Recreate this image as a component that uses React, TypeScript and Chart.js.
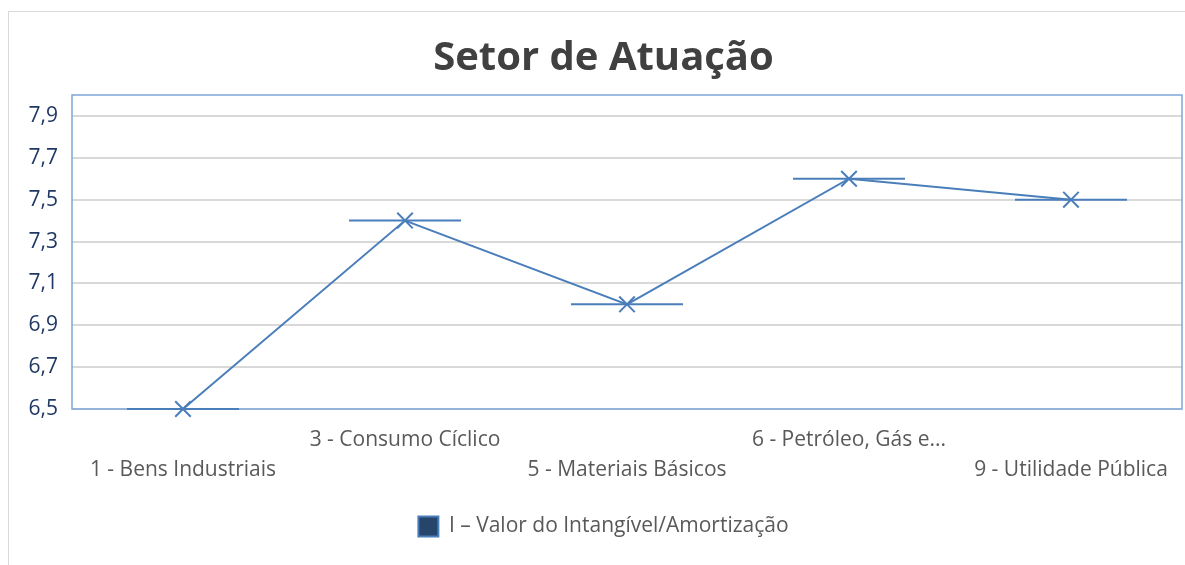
import React, { useEffect, useRef } from "react";
import { Chart, registerables } from "chart.js";

Chart.register(...registerables);

const categories: string[][] = [
  ["", "1 - Bens Industriais"],
  ["3 - Consumo Cíclico", ""],
  ["", "5 - Materiais Básicos"],
  ["6 - Petróleo, Gás e...", ""],
  ["", "9 - Utilidade Pública"],
];
const seriesName = "I – Valor do Intangível/Amortização";
const seriesValues: number[] = [6.5, 7.4, 7.0, 7.6, 7.5];
const yTickValues: number[] = [6.5, 6.7, 6.9, 7.1, 7.3, 7.5, 7.7, 7.9];
const yTickLabels: string[] = ["6,5", "6,7", "6,9", "7,1", "7,3", "7,5", "7,7", "7,9"];
const yMin = 6.5;
const yMax = 8.0;

const FONT = "'Open Sans', 'Noto Sans', sans-serif";
const LINE_COLOR = "#4A7EBB";

const plotBorder = {
  id: "plotBorder",
  beforeDatasetsDraw(chart: any) {
    const { ctx, chartArea } = chart;
    ctx.save();
    ctx.strokeStyle = "#7FA6D9";
    ctx.lineWidth = 1.5;
    ctx.strokeRect(chartArea.left, chartArea.top, chartArea.right - chartArea.left, chartArea.bottom - chartArea.top);
    ctx.restore();
  },
};

export default function App() {
  const ref = useRef<HTMLCanvasElement | null>(null);

  useEffect(() => {
    if (!ref.current) return;
    const chart = new Chart(ref.current, {
      type: "line",
      data: {
        labels: categories,
        datasets: [
          {
            label: seriesName,
            data: seriesValues,
            borderColor: LINE_COLOR,
            backgroundColor: "#27446A",
            borderWidth: 2,
            pointStyle: "crossRot",
            pointRadius: 11,
            pointBorderWidth: 2,
            pointBorderColor: LINE_COLOR,
            fill: false,
            tension: 0,
            clip: false,
          },
          {
            label: "marker",
            data: seriesValues,
            showLine: false,
            borderColor: LINE_COLOR,
            backgroundColor: LINE_COLOR,
            pointStyle: "line",
            pointRadius: 56,
            pointBorderWidth: 2,
            pointBorderColor: LINE_COLOR,
            clip: false,
          },
        ],
      },
      options: {
        animation: false,
        responsive: false,
        maintainAspectRatio: false,
        layout: { autoPadding: false, padding: { left: 16, right: 3, top: 0, bottom: 18 } },
        plugins: {
          title: {
            display: true,
            text: "Setor de Atuação",
            color: "#404040",
            font: { family: FONT, size: 40, weight: "bold", lineHeight: 1.2 },
            padding: { top: 23, bottom: 12 },
          },
          legend: {
            position: "bottom",
            labels: {
              color: "#595959",
              font: { family: FONT, size: 21 },
              boxWidth: 20,
              boxHeight: 20,
              padding: 10,
              filter: (item: any) => item.datasetIndex === 0,
            },
          },
          tooltip: { enabled: false },
        },
        scales: {
          x: {
            type: "category",
            offset: true,
            grid: { display: false, drawTicks: false },
            border: { display: false },
            ticks: {
              color: "#595959",
              font: { family: FONT, size: 21, lineHeight: 1.43 },
              padding: 16,
              autoSkip: false,
              maxRotation: 0,
              minRotation: 0,
            },
            afterFit: (scale: any) => {
              scale.height = 97;
              scale.paddingLeft = 0;
              scale.paddingRight = 0;
            },
          },
          y: {
            min: yMin,
            max: yMax,
            grid: { color: "#D9D9D9", lineWidth: 2, drawTicks: false },
            border: { display: false },
            afterBuildTicks: (scale: any) => {
              scale.ticks = yTickValues.map((v) => ({ value: v }));
            },
            ticks: {
              color: "#1F3864",
              font: { family: FONT, size: 21 },
              padding: 14,
              callback: (_v: any, i: number) => yTickLabels[i],
            },
            afterFit: (scale: any) => {
              scale.width = 47;
              scale.paddingTop = 0;
              scale.paddingBottom = 0;
            },
          },
        },
      },
      plugins: [plotBorder],
    });
    return () => chart.destroy();
  }, []);

  return (
    <div
      style={{
        position: "fixed",
        left: 8,
        top: 11,
        borderLeft: "1px solid #D9D9D9",
        borderTop: "1px solid #D9D9D9",
        width: 1176,
        height: 553,
      }}
    >
      <canvas ref={ref} width={1176} height={553} style={{ display: "block" }} />
    </div>
  );
}
